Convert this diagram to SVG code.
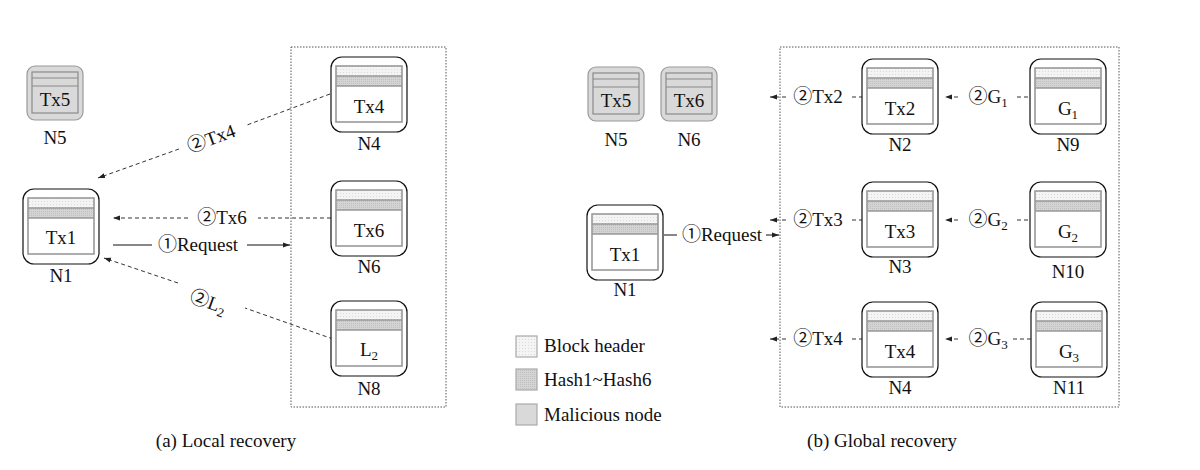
<svg xmlns="http://www.w3.org/2000/svg" width="1200" height="470" viewBox="0 0 1200 470">
<style>
text{font-family:"Liberation Serif","Times New Roman",serif;font-size:19px;fill:#111;text-anchor:middle}
.c{font-family:"Noto Sans CJK SC","DejaVu Sans",sans-serif;font-size:19px}
.s{font-size:13px}
.lg{text-anchor:start}
.outer{fill:#fff;stroke:#111;stroke-width:1.2}
.inner{fill:none;stroke:#999;stroke-width:1.6}
.mouter{fill:#d9d9d9;stroke:#9a9a9a;stroke-width:1.2}
.minner{fill:none;stroke:#8a8a8a;stroke-width:1.2}
.box{fill:none;stroke:#555;stroke-width:1;stroke-dasharray:1.5 1.5}
.dash{fill:none;stroke:#333;stroke-width:1;stroke-dasharray:4 3}
.solid{fill:none;stroke:#111;stroke-width:1}
.lgbox{stroke:#aaa;stroke-width:1.2}
</style>
<defs>
<pattern id="dots" width="3" height="3" patternUnits="userSpaceOnUse"><rect width="3" height="3" fill="#f4f4f4"/><rect width="1" height="1" fill="#dadada"/></pattern>
<pattern id="hash" width="2" height="2" patternUnits="userSpaceOnUse"><rect width="2" height="2" fill="#d4d4d4"/><rect width="1" height="1" fill="#c0c0c0"/></pattern>
<marker id="ah" markerWidth="8" markerHeight="6" refX="7" refY="3" orient="auto" markerUnits="userSpaceOnUse"><path d="M0,0.5 L7,3 L0,5.5 z" fill="#222"/></marker>
<g id="blk">
<rect class="outer" width="76" height="75" rx="11"/>
<rect x="5" y="9" width="66" height="10" fill="url(#dots)"/>
<rect x="5" y="19" width="66" height="10" fill="url(#hash)"/>
<rect class="inner" x="5" y="9" width="66" height="56"/>
<line class="inner" x1="5" y1="19" x2="71" y2="19"/>
<line class="inner" x1="5" y1="29" x2="71" y2="29"/>
</g>
<g id="mblk">
<rect class="mouter" width="56" height="54" rx="8"/>
<rect class="minner" x="5" y="6" width="46" height="41"/>
<line class="minner" x1="5" y1="12" x2="51" y2="12"/>
<line class="minner" x1="5" y1="20" x2="51" y2="20"/>
</g>
</defs>

<!-- (a) Local recovery -->
<rect class="box" x="291" y="47" width="155" height="360"/>
<g id="connectors-a">
<line class="dash" x1="330" y1="94" x2="247" y2="125"/>
<line class="dash" x1="179" y1="149" x2="98" y2="178" marker-end="url(#ah)"/>
<text transform="translate(211,138) rotate(-20)" y="7"><tspan class="c">②</tspan>Tx4</text>
<line class="dash" x1="331" y1="218" x2="258" y2="218"/>
<line class="dash" x1="188" y1="218" x2="113" y2="218" marker-end="url(#ah)"/>
<text x="222" y="224"><tspan class="c">②</tspan>Tx6</text>
<line class="solid" x1="113" y1="245" x2="152" y2="245"/>
<line class="solid" x1="247" y1="245" x2="290" y2="245" marker-end="url(#ah)"/>
<text x="198" y="251"><tspan class="c">①</tspan>Request</text>
<line class="dash" x1="333" y1="339" x2="245" y2="308"/>
<line class="dash" x1="178" y1="283" x2="104" y2="258" marker-end="url(#ah)"/>
<text transform="translate(208,302) rotate(20)" y="6"><tspan class="c">②</tspan>L<tspan class="s" dy="4">2</tspan></text>
</g>
<g id="aN5" transform="translate(27,66)"><use href="#mblk"/><text x="28" y="40">Tx5</text><text x="28" y="78">N5</text></g>
<g id="aN1" transform="translate(23,189)"><use href="#blk"/><text x="38" y="55">Tx1</text><text x="38" y="93">N1</text></g>
<g id="aN4" transform="translate(331,57)"><use href="#blk"/><text x="38" y="56">Tx4</text><text x="38" y="93">N4</text></g>
<g id="aN6" transform="translate(331,181)"><use href="#blk"/><text x="38" y="56">Tx6</text><text x="38" y="92">N6</text></g>
<g id="aN8" transform="translate(331,301)"><use href="#blk"/><text x="38" y="55">L<tspan class="s" dy="4">2</tspan></text><text x="38" y="94">N8</text></g>
<text x="226" y="447">(a) Local recovery</text>

<!-- legend -->
<g id="legend">
<rect class="lgbox" x="516" y="336" width="21" height="21" fill="url(#dots)"/>
<text class="lg" x="544" y="352">Block header</text>
<rect class="lgbox" x="516" y="369" width="21" height="21" fill="url(#hash)"/>
<text class="lg" x="544" y="386">Hash1~Hash6</text>
<rect class="lgbox" x="516" y="404" width="21" height="21" fill="#d9d9d9"/>
<text class="lg" x="544" y="421">Malicious node</text>
</g>

<!-- (b) Global recovery -->
<rect class="box" x="780" y="47" width="339" height="360"/>
<g id="connectors-b">
<line class="solid" x1="664" y1="235" x2="677" y2="235"/>
<text x="722" y="241"><tspan class="c">①</tspan>Request</text>
<line class="solid" x1="766" y1="235" x2="779" y2="235" marker-end="url(#ah)"/>

<line class="dash" x1="786" y1="97" x2="770" y2="97" marker-end="url(#ah)"/>
<text x="818" y="103"><tspan class="c">②</tspan>Tx2</text>
<line class="dash" x1="852" y1="97" x2="862" y2="97"/>
<line class="dash" x1="958" y1="97" x2="945" y2="97" marker-end="url(#ah)"/>
<text x="988" y="103"><tspan class="c">②</tspan>G<tspan class="s" dy="4">1</tspan></text>
<line class="dash" x1="1017" y1="97" x2="1030" y2="97"/>

<line class="dash" x1="786" y1="220" x2="770" y2="220" marker-end="url(#ah)"/>
<text x="818" y="226"><tspan class="c">②</tspan>Tx3</text>
<line class="dash" x1="852" y1="220" x2="862" y2="220"/>
<line class="dash" x1="958" y1="220" x2="945" y2="220" marker-end="url(#ah)"/>
<text x="988" y="226"><tspan class="c">②</tspan>G<tspan class="s" dy="4">2</tspan></text>
<line class="dash" x1="1017" y1="220" x2="1030" y2="220"/>

<line class="dash" x1="786" y1="339" x2="770" y2="339" marker-end="url(#ah)"/>
<text x="818" y="345"><tspan class="c">②</tspan>Tx4</text>
<line class="dash" x1="852" y1="339" x2="862" y2="339"/>
<line class="dash" x1="958" y1="339" x2="945" y2="339" marker-end="url(#ah)"/>
<text x="988" y="345"><tspan class="c">②</tspan>G<tspan class="s" dy="4">3</tspan></text>
<line class="dash" x1="1013" y1="339" x2="1031" y2="339"/>
</g>
<g id="bN5" transform="translate(588,67)"><use href="#mblk"/><text x="28" y="40">Tx5</text><text x="28" y="79">N5</text></g>
<g id="bN6" transform="translate(661,67)"><use href="#mblk"/><text x="28" y="40">Tx6</text><text x="28" y="79">N6</text></g>
<g id="bN1" transform="translate(587,205)"><use href="#blk"/><text x="38" y="56">Tx1</text><text x="38" y="91">N1</text></g>
<g id="bN2" transform="translate(862,59)"><use href="#blk"/><text x="38" y="56">Tx2</text><text x="38" y="92">N2</text></g>
<g id="bN3" transform="translate(862,182)"><use href="#blk"/><text x="38" y="56">Tx3</text><text x="38" y="91">N3</text></g>
<g id="bN4" transform="translate(862,302)"><use href="#blk"/><text x="38" y="56">Tx4</text><text x="38" y="92">N4</text></g>
<g id="bN9" transform="translate(1030,59)"><use href="#blk"/><text x="38" y="56">G<tspan class="s" dy="4">1</tspan></text><text x="38" y="92">N9</text></g>
<g id="bN10" transform="translate(1030,182)"><use href="#blk"/><text x="38" y="56">G<tspan class="s" dy="4">2</tspan></text><text x="38" y="96">N10</text></g>
<g id="bN11" transform="translate(1031,302)"><use href="#blk"/><text x="38" y="56">G<tspan class="s" dy="4">3</tspan></text><text x="38" y="92">N11</text></g>
<text x="882" y="447">(b) Global recovery</text>
</svg>
